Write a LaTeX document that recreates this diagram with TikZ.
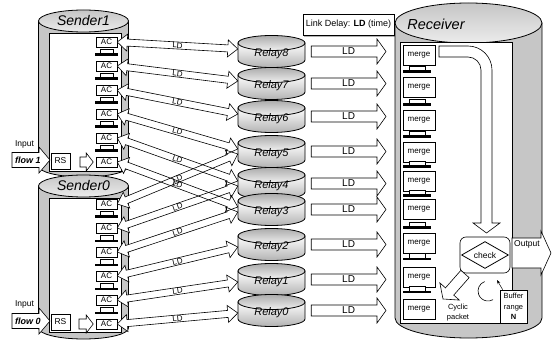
\documentclass[tikz,border=0pt]{standalone}
\usepackage{fontspec}
\setmainfont{Liberation Sans}
\usetikzlibrary{calc,shadows,arrows.meta}

% double-headed block arrow: style, end A, end B, half shaft, half head, head length
\newcommand\dblarrow[6]{%
  \path[#1] (#2) -- ($(#2)!#6!(#3)!#5!90:(#3)$) -- ($(#2)!#6!(#3)!#4!90:(#3)$)
    -- ($(#3)!#6!(#2)!#4!-90:(#2)$) -- ($(#3)!#6!(#2)!#5!-90:(#2)$) -- (#3)
    -- ($(#3)!#6!(#2)!#5!90:(#2)$) -- ($(#3)!#6!(#2)!#4!90:(#2)$)
    -- ($(#2)!#6!(#3)!#4!-90:(#3)$) -- ($(#2)!#6!(#3)!#5!-90:(#3)$) -- cycle;}
% single block arrow: style, tail, tip, half shaft, half head, head length
\newcommand\sglarrow[6]{%
  \path[#1] ($(#2)!#4!90:(#3)$) -- ($(#3)!#6!(#2)!#4!-90:(#2)$)
    -- ($(#3)!#6!(#2)!#5!-90:(#2)$) -- (#3) -- ($(#3)!#6!(#2)!#5!90:(#2)$)
    -- ($(#3)!#6!(#2)!#4!90:(#2)$) -- ($(#2)!#4!-90:(#3)$) -- cycle;}
% small upward step mark between two stacked boxes: x centre, y, half bar width, half box width
\newcommand\upglyph[4]{%
  \path[draw=black,fill=white,line width=0.5pt] (#1-#4,#2-4.5) rectangle (#1+#4,#2);
  \path[fill=black] (#1-#3,#2-0.5) -- (#1+#3,#2-0.5) -- (#1+#3,#2+1.8) -- (#1-#3,#2+1.8) -- cycle;}
% vertical relay cylinder from its top y
\newcommand\relaycyl[1]{%
  \path[relaybody] (238,#1+8) -- (238,#1+25)
    arc[start angle=180,end angle=360,x radius=33.5pt,y radius=7.5pt] -- (305,#1+8) -- cycle;
  \path[relaylid] (271.5,#1+8) ellipse[x radius=33.5pt,y radius=7.5pt];}

\begin{document}
\begin{tikzpicture}[x=1pt,y=-1pt,
  wall/.style={draw=black,line width=0.8pt,fill=gray!45},
  lid/.style={draw=black,line width=0.8pt,top color=gray!45,bottom color=gray!15},
  innerpanel/.style={draw=black,line width=0.5pt,fill=white},
  relaybody/.style={draw=black,line width=0.8pt,top color=white,bottom color=gray!60},
  relaylid/.style={draw=black,line width=0.8pt,top color=gray!65,bottom color=gray!12},
  relaylabel/.style={minimum width=67pt,inner sep=0pt,font=\fontsize{11}{11}\selectfont\itshape},
  cyllabel/.style={inner sep=0pt,font=\fontsize{14}{14}\selectfont\itshape},
  acbox/.style={draw=black,line width=0.5pt,fill=white,minimum width=21pt,minimum height=10pt,
    inner sep=0pt,font=\fontsize{8}{8}\selectfont},
  rsbox/.style={draw=black,line width=0.5pt,fill=white,minimum width=19pt,minimum height=16pt,
    inner sep=0pt,font=\fontsize{8.5}{8.5}\selectfont},
  mergebox/.style={draw=black,line width=0.6pt,fill=white,minimum width=32pt,minimum height=20pt,
    inner sep=0pt,font=\fontsize{8}{8}\selectfont},
  arrowfill/.style={fill=white},
  arrowline/.style={draw=black,line width=0.6pt,line join=miter},
  arrowbox/.style={draw=black,fill=white,line width=0.6pt,line join=miter},
  smalltext/.style={inner sep=0pt,font=\fontsize{7.5}{9.5}\selectfont,align=center},
  ldsmall/.style={inner sep=0pt,font=\fontsize{8}{8}\selectfont},
  ldbig/.style={inner sep=0pt,font=\fontsize{10}{10}\selectfont}]
\useasboundingbox (0,0) rectangle (552,342);

% ---------- Sender1 ----------
\path[wall] (38.5,21) -- (38.5,166)
  arc[start angle=180,end angle=360,x radius=45pt,y radius=11pt] -- (128.5,21) -- cycle;
\path[lid] (83.5,21) ellipse[x radius=45pt,y radius=11pt];
\path[innerpanel] (49,33) rectangle (121,171);
\node[cyllabel] (snd1) at (83.5,21) {Sender1};
\foreach \j/\y in {1/42,2/66,3/90,4/114,5/138,6/162}{
  \node[acbox] (s1a\j) at (106.5,\y) {AC};}
\foreach \y in {54,78,102,126,150}{\upglyph{106.5}{\y}{11.5}{6.5}}
\node[rsbox] (rs1) at (60.5,161) {RS};
\coordinate (k1a) at (80,162);
\coordinate (k1b) at ([xshift=-2.5pt]s1a6.west);
\sglarrow{arrowbox}{k1a}{k1b}{5pt}{9pt}{7pt}
\coordinate (in1a) at (12,160);
\coordinate (in1b) at (50,160);
\sglarrow{arrowbox}{in1a}{in1b}{7.5pt}{13pt}{11pt}
\node[inner sep=0pt,font=\fontsize{9}{9}\selectfont\bfseries\itshape] (fl1) at (28,160) {flow 1};
\node[inner sep=0pt,font=\fontsize{8.5}{8.5}\selectfont] (ip1) at (24.5,144.5) {Input};

% ---------- Sender0 ----------
\path[wall] (38.5,186) -- (38.5,328)
  arc[start angle=180,end angle=360,x radius=45pt,y radius=11pt] -- (128.5,186) -- cycle;
\path[lid] (83.5,186) ellipse[x radius=45pt,y radius=11pt];
\path[innerpanel] (49,198) rectangle (121,332);
\node[cyllabel] (snd0) at (83.5,186) {Sender0};
\foreach \j/\y in {1/204,2/228,3/252,4/276,5/300,6/324}{
  \node[acbox] (s0a\j) at (106.5,\y) {AC};}
\foreach \y in {216,240,264,288,312}{\upglyph{106.5}{\y}{11.5}{6.5}}
\node[rsbox] (rs0) at (60.5,322) {RS};
\coordinate (k0a) at (79,324);
\coordinate (k0b) at ([xshift=-2.5pt]s0a6.west);
\sglarrow{arrowbox}{k0a}{k0b}{5pt}{9pt}{7pt}
\coordinate (in0a) at (12,321);
\coordinate (in0b) at (50,321);
\sglarrow{arrowbox}{in0a}{in0b}{7.5pt}{13pt}{11pt}
\node[inner sep=0pt,font=\fontsize{9}{9}\selectfont\bfseries\itshape] (fl0) at (28,321) {flow 0};
\node[inner sep=0pt,font=\fontsize{8.5}{8.5}\selectfont] (ip0) at (24.5,304.5) {Input};

% ---------- Relays ----------
\foreach \i/\t in {8/35,7/67,6/100,5/135,4/167,3/193,2/228,1/263,0/294}{
  \relaycyl{\t}
  \node[relaylabel] (r\i) at (271.5,\t+19) {Relay\i};
}

% ---------- sender <-> relay links ----------
\foreach \a/\r in {s1a1/r8,s1a2/r7,s1a3/r6,s1a4/r5,s1a5/r4,s1a6/r3}{
  \coordinate (\a-t) at ([yshift=5pt]\r.west);}
\foreach \a/\r in {s0a1/r5,s0a2/r4,s0a3/r3,s0a4/r2,s0a5/r1,s0a6/r0}{
  \coordinate (\a-t) at (\r.west);}
\foreach \a in {s1a1,s1a2,s1a3,s1a4,s1a5,s1a6,s0a1,s0a2,s0a3,s0a4,s0a5,s0a6}{
  \dblarrow{arrowfill}{\a.east}{\a-t}{3.5pt}{8.5pt}{10pt}}
\foreach \a in {s1a1,s1a2,s1a3,s1a4,s1a5,s1a6,s0a1,s0a2,s0a3,s0a4,s0a5,s0a6}{
  \dblarrow{arrowline}{\a.east}{\a-t}{3.5pt}{8.5pt}{10pt}
  \path (\a.east) -- (\a-t) node[midway,sloped,ldsmall] {LD};
}

% ---------- legend ----------
\node[draw=black,line width=0.6pt,fill=white,minimum width=91pt,minimum height=21pt,inner sep=0pt,
  font=\fontsize{9}{9}\selectfont,
  drop shadow={shadow xshift=1pt,shadow yshift=-2.5pt,fill=gray!60,opacity=1}]
  (legend) at (348.5,24.5) {Link Delay: \textbf{LD} (time)};

% ---------- Receiver ----------
\path[wall] (395,23) -- (395,318)
  arc[start angle=180,end angle=360,x radius=73.5pt,y radius=20pt] -- (542,23) -- cycle;
\path[lid] (468.5,23) ellipse[x radius=73.5pt,y radius=20pt];
\path[innerpanel] (400,42) rectangle (512,323);
\node[inner sep=0pt,font=\fontsize{14.5}{14.5}\selectfont\itshape] (recv) at (436,24) {Receiver};
\foreach \k/\y in {1/55,2/87,3/120,4/152,5/181,6/209,7/243,8/277,9/309}{
  \node[mergebox] (m\k) at (419,\y) {merge};}
\foreach \y in {71,104,136,166,195,227,258,291}{\upglyph{417}{\y}{14}{8}}

% relay -> receiver links
\coordinate (rin) at (386,0);
\foreach \i in {0,...,8}{
  \coordinate (o\i-a) at ([xshift=6pt,yshift=2.5pt]r\i.east);
  \coordinate (o\i-b) at (o\i-a -| rin);
  \sglarrow{arrowbox}{o\i-a}{o\i-b}{5.5pt}{12.5pt}{9pt}
  \node[ldbig] at ($(o\i-a)!0.5!(o\i-b)$) {LD};
}

% merged stream down to the check
\path[arrowbox] (439,46) -- (468,46) arc[start angle=90,end angle=0,radius=24pt]
  -- (492,223) -- (500,223) -- (486.5,233) -- (473,223) -- (481,223) -- (481,70)
  arc[start angle=0,end angle=90,radius=13pt] -- (439,57) -- cycle;

\node[draw=black,line width=0.6pt,fill=white,rounded corners=6pt,minimum width=50pt,
  minimum height=36pt,inner sep=0pt,font=\fontsize{8.5}{8.5}\selectfont] (check) at (485,255) {};
\path[draw=black,line width=0.8pt] ([xshift=2pt]check.west) -- ([yshift=-5pt]check.north)
  -- ([xshift=-2pt]check.east) -- ([yshift=5pt]check.south) -- cycle;
\node[inner sep=0pt,font=\fontsize{8.5}{8.5}\selectfont] at (check) {check};

% output
\coordinate (outa) at (512,253);
\coordinate (outb) at (551,253);
\sglarrow{arrowbox}{outa}{outb}{15pt}{22pt}{10pt}
\node[inner sep=0pt,font=\fontsize{8.5}{8.5}\selectfont] (outl) at (527,244) {Output};

% cyclic packet
\coordinate (cyca) at (465,274);
\coordinate (cycb) at (443,299);
\sglarrow{arrowbox}{cyca}{cycb}{5.5pt}{13pt}{10pt}
\node[smalltext] (cyl) at (458,312.5) {Cyclic\\packet};

% buffer
\draw[line width=0.6pt] (484.6,281.6) arc[start angle=110,end angle=300,radius=10pt];
\node[draw=black,line width=0.6pt,fill=white,minimum width=27pt,minimum height=33pt,inner sep=0pt,
  font=\fontsize{7.5}{10.5}\selectfont,align=center] (buf) at (513.5,306.5) {Buffer\\range\\\textbf{N}};
\coordinate (bufpt) at (497,280);
\draw[line width=0.5pt,-{Stealth[length=4pt,width=3pt]}] ([xshift=3pt]buf.north west) -- (bufpt);
\end{tikzpicture}
\end{document}
